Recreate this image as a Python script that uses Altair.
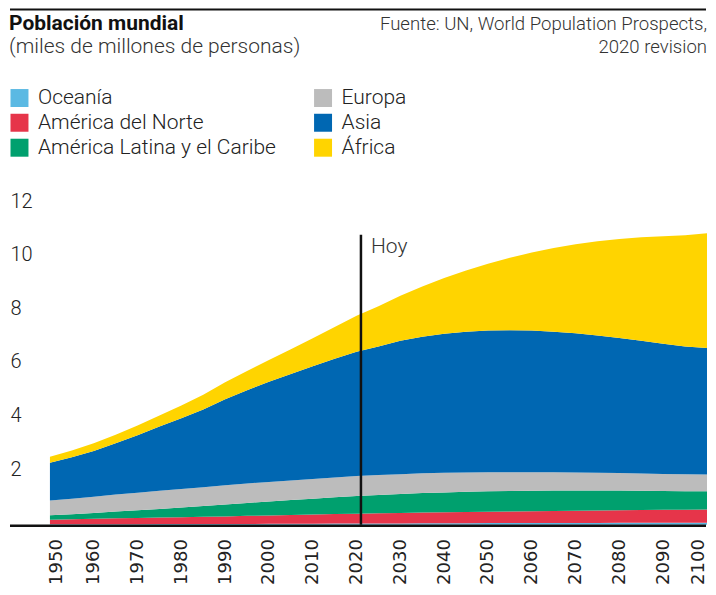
import altair as alt
import pandas as pd

# ---- data (billions of people), read at 5-year steps ----
years = list(range(1950, 2101, 5))
oceania = [0.013, 0.014, 0.016, 0.018, 0.020, 0.022, 0.023, 0.025, 0.027, 0.029, 0.031,
           0.034, 0.037, 0.040, 0.043, 0.046, 0.048, 0.051, 0.053, 0.055, 0.058, 0.060,
           0.062, 0.064, 0.066, 0.067, 0.069, 0.070, 0.071, 0.073, 0.074]
north_america = [0.173, 0.187, 0.204, 0.219, 0.231, 0.242, 0.254, 0.267, 0.280, 0.300, 0.313,
                 0.328, 0.343, 0.357, 0.369, 0.380, 0.391, 0.401, 0.409, 0.417, 0.425, 0.432,
                 0.440, 0.447, 0.455, 0.462, 0.469, 0.476, 0.482, 0.487, 0.491]
latin_america = [0.169, 0.192, 0.220, 0.252, 0.287, 0.324, 0.362, 0.401, 0.442, 0.482, 0.522,
                 0.558, 0.591, 0.623, 0.654, 0.680, 0.706, 0.727, 0.743, 0.755, 0.762, 0.766,
                 0.766, 0.763, 0.756, 0.745, 0.733, 0.718, 0.703, 0.688, 0.680]
europe = [0.549, 0.577, 0.606, 0.635, 0.657, 0.677, 0.694, 0.708, 0.721, 0.727, 0.726,
          0.729, 0.736, 0.741, 0.748, 0.744, 0.741, 0.736, 0.731, 0.723, 0.710, 0.699,
          0.690, 0.680, 0.672, 0.665, 0.657, 0.648, 0.639, 0.635, 0.630]
asia = [1.405, 1.545, 1.705, 1.913, 2.142, 2.395, 2.636, 2.897, 3.210, 3.480, 3.741,
        3.978, 4.209, 4.433, 4.641, 4.800, 4.974, 5.096, 5.189, 5.252, 5.290, 5.301,
        5.287, 5.249, 5.194, 5.124, 5.042, 4.951, 4.857, 4.768, 4.720]
africa = [0.228, 0.254, 0.284, 0.322, 0.366, 0.418, 0.481, 0.553, 0.634, 0.718, 0.811,
          0.916, 1.039, 1.182, 1.341, 1.504, 1.688, 1.880, 2.077, 2.281, 2.489, 2.700,
          2.912, 3.120, 3.320, 3.510, 3.690, 3.860, 4.010, 4.150, 4.280]

regions = ["Oceanía", "América del Norte", "América Latina y el Caribe", "Europa", "Asia", "África"]
series = [oceania, north_america, latin_america, europe, asia, africa]
colors = ["#5bb9e3", "#e6354a", "#00a06e", "#bcbcbc", "#0067b2", "#ffd400"]

hoy_year = [2021]
hoy_top = [10.82]
hoy_label_value = [10.15]

x_ticks = list(range(1950, 2101, 10))
y_ticks = [2, 4, 6, 8, 10, 12]

rows = []
for idx, (name, vals) in enumerate(zip(regions, series)):
    for yr, v in zip(years, vals):
        rows.append({"year": yr, "value": v, "region": name, "stack_idx": idx})
df = pd.DataFrame(rows)

W, H = 658, 322
FONT = "Roboto"

xscale = alt.Scale(domain=[1950, 2100], nice=False, zero=False)
yscale = alt.Scale(domain=[0, 12], nice=False)

# first / last year labels pulled inside the plot width
x_label_offset = {"condition": [{"test": "datum.value == 1950", "value": 7},
                                {"test": "datum.value == 2100", "value": -8.5}],
                  "value": 0}

x_axis = alt.Axis(values=x_ticks, format="d", title=None, labelAngle=270,
                  labelOffset=x_label_offset,
                  labelFont="DejaVu Sans", labelFontSize=18, labelColor="#222",
                  labelPadding=14, ticks=False, tickSize=0, domain=False, grid=False)
y_axis = alt.Axis(values=y_ticks, title=None, labelAlign="left", labelPadding=40,
                  labelBaseline="middle", labelOffset=-2,
                  labelFont=FONT, labelFontSize=20, labelFontWeight=300, labelColor="#222",
                  ticks=False, tickSize=0, domain=False, grid=False)

area = alt.Chart(df).mark_area(interpolate="linear").encode(
    x=alt.X("year:Q", scale=xscale, axis=x_axis),
    y=alt.Y("value:Q", stack="zero", scale=yscale, axis=y_axis),
    color=alt.Color("region:N", scale=alt.Scale(domain=regions, range=colors),
                    legend=alt.Legend(title=None, orient="none", legendX=-41, legendY=-116,
                                      padding=0, columns=2, symbolType="square", symbolSize=324,
                                      symbolStrokeWidth=0, labelFont=FONT, labelFontSize=21,
                                      labelFontWeight=300,
                                      labelColor="#222", labelOffset=8, rowPadding=3,
                                      columnPadding=36, labelLimit=400)),
    order=alt.Order("stack_idx:Q", sort="ascending"),
)

hoy_df = pd.DataFrame({"year": hoy_year, "value": hoy_top, "value2": [0], "lab": hoy_label_value,
                       "text": ["Hoy"]})
hoy_rule = alt.Chart(hoy_df).mark_rule(color="#111", strokeWidth=2.5).encode(
    x=alt.X("year:Q", scale=xscale, axis=x_axis),
    y=alt.Y("value:Q", scale=yscale, axis=y_axis),
    y2="value2:Q",
)
hoy_text = alt.Chart(hoy_df).mark_text(align="left", baseline="alphabetic", dx=10,
                                       font=FONT, fontSize=21, fontWeight=300, color="#333").encode(
    x=alt.X("year:Q", scale=xscale, axis=x_axis),
    y=alt.Y("lab:Q", scale=yscale, axis=y_axis),
    text="text:N",
)

one = pd.DataFrame({"a": [0]})
base_rule = alt.Chart(one).mark_rule(color="#111", strokeWidth=2.5).encode(
    x=alt.value(-40), x2=alt.value(W - 1), y=alt.value(H + 1))
top_rule = alt.Chart(one).mark_rule(color="#111", strokeWidth=2).encode(
    x=alt.value(-40), x2=alt.value(W - 1), y=alt.value(-194))

title = alt.Chart(one).mark_text(align="left", baseline="alphabetic", font=FONT,
                                 fontSize=21, fontWeight="bold", color="#111").encode(
    x=alt.value(-41), y=alt.value(-173), text=alt.value("Población mundial"))
subtitle = alt.Chart(one).mark_text(align="left", baseline="alphabetic", font=FONT,
                                    fontSize=21, fontWeight=300, color="#333").encode(
    x=alt.value(-41), y=alt.value(-150), text=alt.value("(miles de millones de personas)"))
source1 = alt.Chart(one).mark_text(align="right", baseline="alphabetic", font=FONT,
                                   fontSize=18.6, fontWeight=300, color="#333").encode(
    x=alt.value(W), y=alt.value(-173), text=alt.value("Fuente: UN, World Population Prospects,"))
source2 = alt.Chart(one).mark_text(align="right", baseline="alphabetic", font=FONT,
                                   fontSize=18.6, fontWeight=300, color="#333").encode(
    x=alt.value(W), y=alt.value(-150), text=alt.value("2020 revision"))

chart = alt.layer(area, hoy_rule, hoy_text, base_rule, top_rule,
                  title, subtitle, source1, source2).properties(
    width=W, height=H, padding=0
).configure(background="white").configure_view(stroke=None)

chart.save("out.html", embed_options={"renderer": "svg", "actions": False})
